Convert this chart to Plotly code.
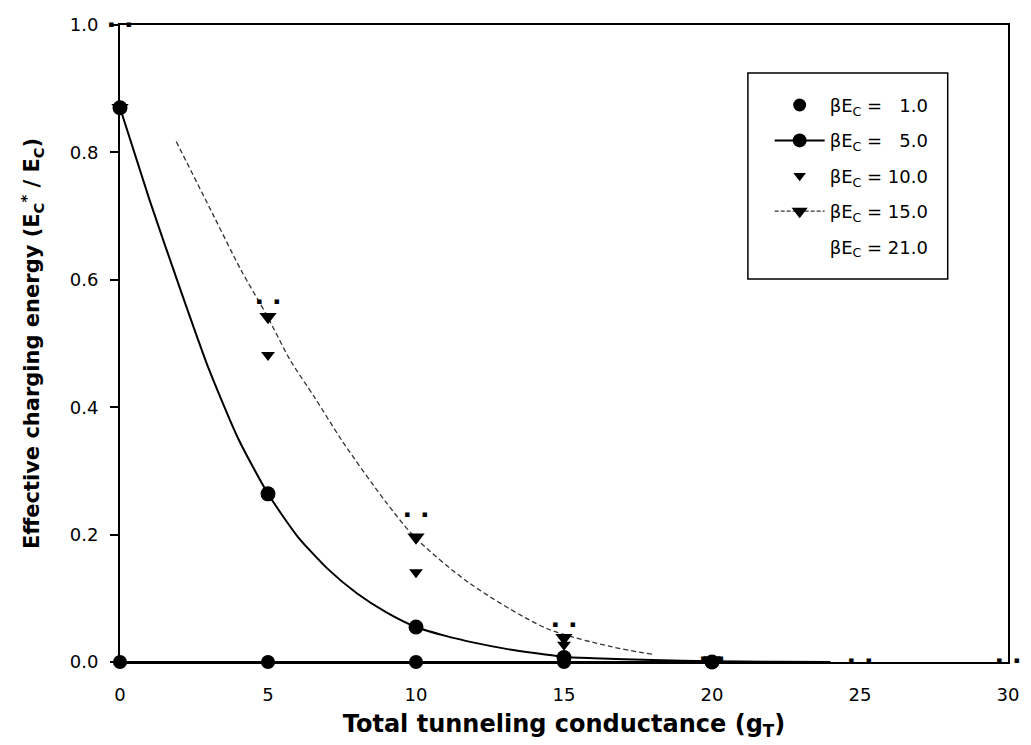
import plotly.graph_objects as go

# ---- data ----
x_pts = [0, 5, 10, 15, 20]
y_b1 = [0.0, 0.0, 0.0, 0.0, 0.0]
y_b5 = [0.87, 0.264, 0.055, 0.007, 0.0]
y_b10 = [0.87, 0.482, 0.141, 0.027, 0.001]
y_b15 = [0.87, 0.542, 0.196, 0.038, 0.003]
x_b21 = [0, 5, 10, 15, 20, 25, 30]
y_b21 = [1.0, 0.566, 0.231, 0.058, 0.005, 0.002, 0.002]

# fitted curves
fit5_x = [0, 1, 2, 3, 4, 5, 6, 7, 8, 9, 10, 11, 12, 13, 14, 15, 16, 18, 20, 22, 24]
fit5_y = [0.87, 0.725, 0.59, 0.46, 0.35, 0.264, 0.197, 0.147, 0.108, 0.078, 0.055, 0.041, 0.030,
          0.021, 0.014, 0.008, 0.006, 0.003, 0.001, 0.0005, 0.0]
fit15_x = [1.9, 3.17, 4.08, 4.95, 5.75, 6.58, 7.52, 8.92, 9.96, 11.8, 14.4, 16.6, 18.0]
fit15_y = [0.817, 0.70, 0.616, 0.545, 0.474, 0.415, 0.346, 0.255, 0.196, 0.124, 0.053, 0.024, 0.012]

labels = ["1.0", "5.0", "10.0", "15.0", "21.0"]
x_ticks = [0, 5, 10, 15, 20, 25, 30]
y_ticks = [0.0, 0.2, 0.4, 0.6, 0.8, 1.0]
y_ticktext = ["0.0", "0.2", "0.4", "0.6", "0.8", "1.0"]

NB = "\u00a0"


def leg(v):
    pad = NB * (3 if len(v) == 3 else 1)
    return f"βE<sub>C</sub> ={pad}{v}"


FONT = "DejaVu Sans"
fig = go.Figure()

# lines
fig.add_trace(go.Scatter(x=x_pts, y=y_b1, mode="lines", line=dict(color="black", width=2),
                         showlegend=False, cliponaxis=False, hoverinfo="skip"))
fig.add_trace(go.Scatter(x=fit5_x, y=fit5_y, mode="lines",
                         line=dict(color="black", width=2, shape="spline", smoothing=0.6),
                         showlegend=False, cliponaxis=False, hoverinfo="skip"))
fig.add_trace(go.Scatter(x=fit15_x, y=fit15_y, mode="lines",
                         line=dict(color="#333", width=1.3, dash="5px,3px", shape="spline", smoothing=0.8),
                         showlegend=False, cliponaxis=False, hoverinfo="skip"))

# markers
fig.add_trace(go.Scatter(x=x_pts, y=y_b1, mode="markers", marker=dict(symbol="circle", size=14, color="black"),
                         showlegend=False, cliponaxis=False))
fig.add_trace(go.Scatter(x=x_pts, y=y_b5, mode="markers", marker=dict(symbol="circle", size=15, color="black"),
                         showlegend=False, cliponaxis=False))
fig.add_trace(go.Scatter(x=x_pts, y=y_b10, mode="markers", marker=dict(symbol="triangle-down", size=12, color="black"),
                         showlegend=False, cliponaxis=False))
fig.add_trace(go.Scatter(x=x_pts, y=y_b15, mode="markers", marker=dict(symbol="triangle-down", size=15, color="black"),
                         showlegend=False, cliponaxis=False))
fig.add_trace(go.Scatter(x=x_b21, y=y_b21, mode="text", text=["\u25aa" + NB * 4 + "\u25aa"] * len(x_b21),
                         textposition="middle center", textfont=dict(family=FONT, size=9, color="black"),
                         showlegend=False, cliponaxis=False))

# legend entries
fig.add_trace(go.Scatter(x=[None], y=[None], mode="markers", name=leg(labels[0]), legendgroup="g1",
                         marker=dict(symbol="circle", size=13, color="black")))
fig.add_trace(go.Scatter(x=[None], y=[None], mode="lines+markers", name=leg(labels[1]), legendgroup="g2",
                         marker=dict(symbol="circle", size=14, color="black"), line=dict(color="black", width=2)))
fig.add_trace(go.Scatter(x=[None], y=[None], mode="markers", name=leg(labels[2]), legendgroup="g3",
                         marker=dict(symbol="triangle-down", size=11, color="black")))
fig.add_trace(go.Scatter(x=[None], y=[None], mode="lines+markers", name=leg(labels[3]), legendgroup="g4",
                         marker=dict(symbol="triangle-down", size=14, color="black"),
                         line=dict(color="#333", width=1.3, dash="4px,2px")))
fig.add_trace(go.Scatter(x=[None], y=[None], mode="lines", name=leg(labels[4]), legendgroup="g5",
                         line=dict(color="rgba(0,0,0,0)", width=1)))

fig.update_layout(
    width=1031, height=745,
    margin=dict(l=120, r=13, t=25, b=83),
    paper_bgcolor="white", plot_bgcolor="white",
    font=dict(family=FONT, color="black", size=18),
    showlegend=True,
    legend=dict(x=0.7316, y=0.903, xanchor="left", yanchor="top", bgcolor="rgba(0,0,0,0)",
                borderwidth=0, itemwidth=50, tracegroupgap=9,
                font=dict(family=FONT, size=18, color="black", weight="normal")),
    shapes=[dict(type="rect", xref="paper", yref="paper", x0=0.7071, x1=0.9321, y0=0.6013, y1=0.9246,
                 line=dict(color="black", width=1.5), fillcolor="rgba(0,0,0,0)")],
)

fig.update_xaxes(range=[0, 30], tickvals=x_ticks, ticks="", showgrid=False, zeroline=False,
                 showline=True, linecolor="black", linewidth=1.5, mirror=True,
                 tickfont=dict(family=FONT, size=18, color="black", weight="normal"), ticklabelstandoff=16,
                 title=dict(text="Total tunneling conductance (g<sub>T</sub>)",
                            font=dict(family=FONT, size=24, color="black", weight="bold"), standoff=11))
fig.update_yaxes(range=[0, 1.0], tickvals=y_ticks, ticktext=y_ticktext, ticks="outside", ticklen=8,
                 tickcolor="black", tickwidth=1.5, showgrid=False, zeroline=False,
                 showline=True, linecolor="black", linewidth=2, mirror=True,
                 tickfont=dict(family=FONT, size=18, color="black", weight="normal"), ticklabelstandoff=8,
                 title=dict(text="Effective charging energy (E<sub>C</sub><sup>*</sup> / E<sub>C</sub>)",
                            font=dict(family=FONT, size=21, color="black", weight="bold"), standoff=24))

fig.write_html("out.html")
